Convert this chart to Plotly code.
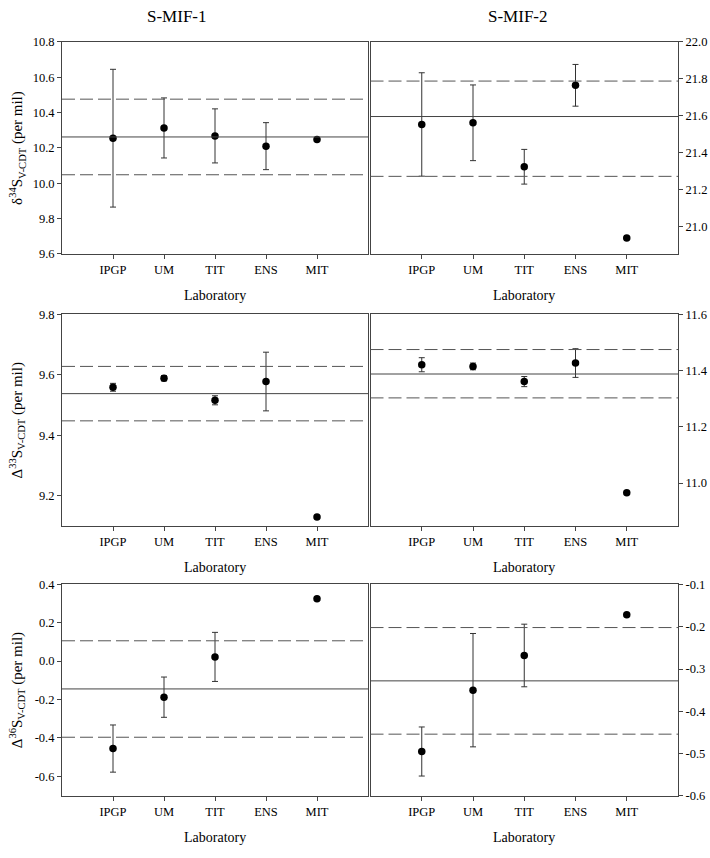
import plotly.graph_objects as go

labs = ["IPGP", "UM", "TIT", "ENS", "MIT"]
xpos = [1, 2, 3, 4, 5]

# delta34S
d34_mif1 = [10.255, 10.313, 10.268, 10.210, 10.247]
d34_mif1_err = [0.39, 0.17, 0.153, 0.133, None]
d34_mif1_ref = [10.262, 10.476, 10.048]   # mean, +2sd, -2sd
d34_mif2 = [21.553, 21.562, 21.324, 21.765, 20.938]
d34_mif2_err = [0.28, 0.205, 0.094, 0.113, None]
d34_mif2_ref = [21.596, 21.788, 21.272]

# Delta33S
D33_mif1 = [9.559, 9.589, 9.516, 9.578, 9.130]
D33_mif1_err = [0.013, 0.009, 0.015, 0.097, None]
D33_mif1_ref = [9.538, 9.628, 9.448]
D33_mif2 = [11.421, 11.415, 11.361, 11.427, 10.966]
D33_mif2_err = [0.025, 0.012, 0.018, 0.051, None]
D33_mif2_ref = [11.388, 11.475, 11.303]

# Delta36S
D36_mif1 = [-0.456, -0.188, 0.022, None, 0.325]
D36_mif1_err = [0.123, 0.105, 0.128, None, None]
D36_mif1_ref = [-0.145, 0.106, -0.397]
D36_mif2 = [-0.495, -0.350, -0.268, None, -0.172]
D36_mif2_err = [0.058, 0.134, 0.074, None, None]
D36_mif2_ref = [-0.328, -0.202, -0.454]

# tick values
ticks_p1 = [9.6, 9.8, 10.0, 10.2, 10.4, 10.6, 10.8]
ticks_p2 = [21.0, 21.2, 21.4, 21.6, 21.8, 22.0]
ticks_p3 = [9.2, 9.4, 9.6, 9.8]
ticks_p4 = [11.0, 11.2, 11.4, 11.6]
ticks_p5 = [-0.6, -0.4, -0.2, 0.0, 0.2, 0.4]
ticks_p6 = [-0.6, -0.5, -0.4, -0.3, -0.2, -0.1]

ranges = [[9.6, 10.8], [20.852, 22.0], [9.099, 9.8], [10.846, 11.6], [-0.703, 0.4], [-0.6, -0.1]]

W, H = 710, 858
FONT = "Liberation Serif"

panels = [
    (d34_mif1, d34_mif1_err, d34_mif1_ref, ticks_p1),
    (d34_mif2, d34_mif2_err, d34_mif2_ref, ticks_p2),
    (D33_mif1, D33_mif1_err, D33_mif1_ref, ticks_p3),
    (D33_mif2, D33_mif2_err, D33_mif2_ref, ticks_p4),
    (D36_mif1, D36_mif1_err, D36_mif1_ref, ticks_p5),
    (D36_mif2, D36_mif2_err, D36_mif2_ref, ticks_p6),
]

xdoms_px = [(62, 368), (370.5, 678)]
ydoms_px = [(35.5, 251), (312.5, 528), (587, 802)]

def xd(a, b):
    return [a / W, b / W]

def yd(top, bot):
    return [1 - bot / H, 1 - top / H]

fig = go.Figure()
layout = dict(
    width=W, height=H,
    margin=dict(l=0, r=0, t=0, b=0),
    paper_bgcolor="white", plot_bgcolor="white",
    showlegend=False,
    font=dict(family=FONT, color="black", size=13),
)
shapes = []
annotations = []

for i, (vals, errs, ref, tks) in enumerate(panels):
    row, col = divmod(i, 2)
    n = i + 1
    xa = "xaxis" if n == 1 else f"xaxis{n}"
    ya = "yaxis" if n == 1 else f"yaxis{n}"
    xr = "x" if n == 1 else f"x{n}"
    yr = "y" if n == 1 else f"y{n}"
    fig.add_trace(go.Scatter(
        x=xpos, y=vals, mode="markers", xaxis=xr, yaxis=yr,
        marker=dict(color="black", size=7.5),
        error_y=dict(type="data", array=errs, visible=True,
                     color="#333333", thickness=1, width=3),
    ))
    layout[xa] = dict(
        domain=xd(*xdoms_px[col]), anchor=yr, range=[0, 6],
        tickvals=xpos, ticktext=labs, ticks="outside", ticklen=4,
        tickcolor="#444", showline=True, linecolor="#444", linewidth=1,
        mirror=True, showgrid=False, zeroline=False,
        tickfont=dict(family=FONT, size=12.5, color="black"),
    )
    layout[ya] = dict(
        domain=yd(*ydoms_px[row]), anchor=xr, range=ranges[i],
        tickvals=tks, ticktext=[f"{v:.1f}" for v in tks],
        ticks="outside", ticklen=4, tickcolor="#444",
        side="left" if col == 0 else "right",
        showline=True, linecolor="#444", linewidth=1, mirror=True,
        showgrid=False, zeroline=False,
        tickfont=dict(family=FONT, size=12.5, color="black"),
    )
    # mean and +/- lines
    shapes.append(dict(type="line", xref=f"{xr} domain", yref=yr,
                       x0=0, x1=1, y0=ref[0], y1=ref[0],
                       line=dict(color="#444", width=1)))
    for v in ref[1:]:
        shapes.append(dict(type="line", xref=f"{xr} domain", yref=yr,
                           x0=0, x1=1, y0=v, y1=v,
                           line=dict(color="#555", width=1, dash="13px,5px")))
    # Laboratory title
    xa_c = (xdoms_px[col][0] + xdoms_px[col][1]) / 2
    annotations.append(dict(text="Laboratory", xref="paper", yref="paper",
                            x=xa_c / W, y=1 - (ydoms_px[row][1] + 42) / H,
                            showarrow=False, xanchor="center", yanchor="middle",
                            font=dict(family=FONT, size=14, color="black")))

ytitles = [
    "δ<sup>34</sup>S<sub>V-CDT</sub> (per mil)",
    "Δ<sup>33</sup>S<sub>V-CDT</sub> (per mil)",
    "Δ<sup>36</sup>S<sub>V-CDT</sub> (per mil)",
]
for row, t in enumerate(ytitles):
    yc = (ydoms_px[row][0] + ydoms_px[row][1]) / 2
    annotations.append(dict(text=t, xref="paper", yref="paper",
                            x=17 / W, y=1 - yc / H, textangle=-90,
                            showarrow=False, xanchor="center", yanchor="middle",
                            font=dict(family=FONT, size=15, color="black")))

annotations.append(dict(text="S-MIF-1", xref="paper", yref="paper",
                        x=177 / W, y=1 - 10 / H, showarrow=False,
                        xanchor="center", yanchor="middle",
                        font=dict(family=FONT, size=17, color="black")))
annotations.append(dict(text="S-MIF-2", xref="paper", yref="paper",
                        x=518 / W, y=1 - 10 / H, showarrow=False,
                        xanchor="center", yanchor="middle",
                        font=dict(family=FONT, size=17, color="black")))

layout["shapes"] = shapes
layout["annotations"] = annotations
fig.update_layout(**layout)
fig.write_html("out.html", config={"displayModeBar": False},
               post_script="document.body.style.margin='0';document.body.style.overflow='hidden';")
